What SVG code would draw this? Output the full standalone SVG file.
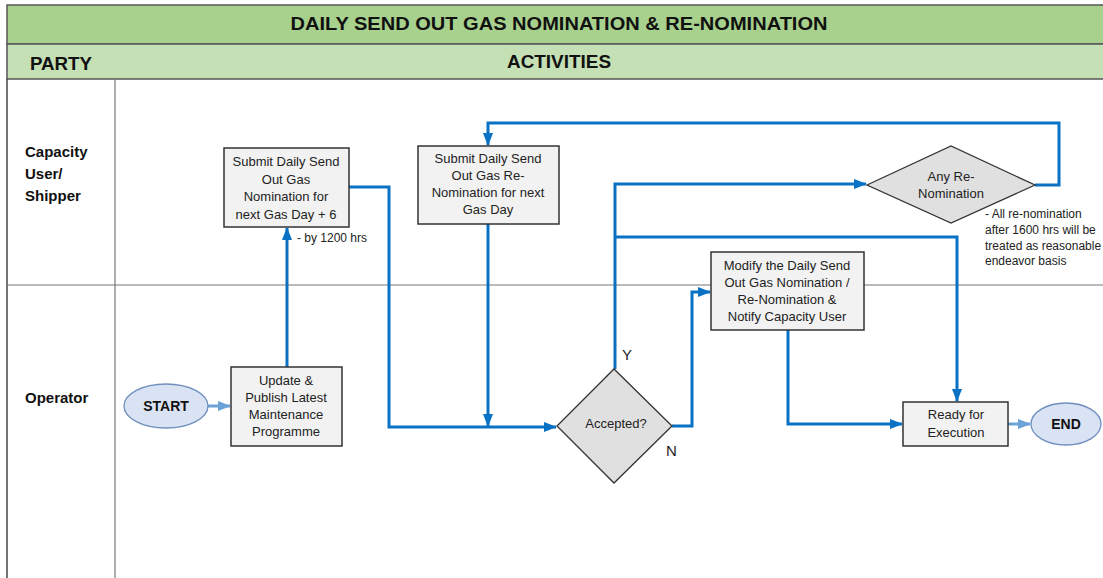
<svg xmlns="http://www.w3.org/2000/svg" width="1103" height="578" viewBox="0 0 1103 578">
<defs>
<style>
.t{font-family:"Liberation Sans",Arial,sans-serif;font-size:13px;fill:#222;text-anchor:middle}
.n{font-family:"Liberation Sans",Arial,sans-serif;font-size:12px;fill:#222}
.yn{font-family:"Liberation Sans",Arial,sans-serif;font-size:15px;fill:#222}
.h{font-family:"Liberation Sans",Arial,sans-serif;font-weight:bold;fill:#111}
.box{fill:#f2f2f2;stroke:#333;stroke-width:1.5}
.dia{fill:#e0e0e0;stroke:#333;stroke-width:1.3}
.ell{fill:#dae3f3;stroke:#6e8fbd;stroke-width:1.3}
.c{fill:none;stroke:#0a72c4;stroke-width:3}
.cl{fill:none;stroke:#6ba3d8;stroke-width:3}
</style>
<marker id="b" markerWidth="14" markerHeight="12" refX="12" refY="6" orient="auto" markerUnits="userSpaceOnUse"><path d="M0,1 L13,6 L0,11 Z" fill="#0a72c4"/></marker>
<marker id="bl" markerWidth="14" markerHeight="12" refX="12" refY="6" orient="auto" markerUnits="userSpaceOnUse"><path d="M0,1 L13,6 L0,11 Z" fill="#6ba3d8"/></marker>
</defs>
<rect x="0" y="0" width="1103" height="578" fill="#fff"/>
<g id="frame">
<rect x="7" y="5" width="1100" height="39" fill="#a9d18e" stroke="#555" stroke-width="1.5"/>
<rect x="7" y="44" width="1100" height="35" fill="#c5e0b4" stroke="#555" stroke-width="1.5"/>
<line x1="7" y1="79" x2="7" y2="578" stroke="#444" stroke-width="1.5"/>
<line x1="115" y1="79" x2="115" y2="578" stroke="#777" stroke-width="1.2"/>
<line x1="7" y1="285" x2="1103" y2="285" stroke="#777" stroke-width="1.2"/>
<text class="h" x="559" y="30" font-size="18" text-anchor="middle" textLength="537" lengthAdjust="spacingAndGlyphs">DAILY SEND OUT GAS NOMINATION &amp; RE-NOMINATION</text>
<text class="h" x="30" y="70" font-size="18" textLength="62" lengthAdjust="spacingAndGlyphs">PARTY</text>
<text class="h" x="559" y="68" font-size="18" text-anchor="middle" textLength="104" lengthAdjust="spacingAndGlyphs">ACTIVITIES</text>
<text class="h" font-size="15" x="25" y="157">Capacity</text>
<text class="h" font-size="15" x="25" y="179">User/</text>
<text class="h" font-size="15" x="25" y="201">Shipper</text>
<text class="h" font-size="15" x="25" y="403">Operator</text>
</g>
<g id="connectors">
<path class="cl" d="M208,406 H230" marker-end="url(#bl)"/>
<path class="c" d="M287,367 V228" marker-end="url(#b)"/>
<path class="c" d="M349,187 H389 V427 H556" marker-end="url(#b)"/>
<path class="c" d="M488,224 V426" marker-end="url(#b)"/>
<path class="c" d="M1035,185 H1059 V123 H488 V145" marker-end="url(#b)"/>
<path class="c" d="M615,369 V184 H866" marker-end="url(#b)"/>
<path class="c" d="M615,237 H957 V401" marker-end="url(#b)"/>
<path class="c" d="M672,426 H692 V292 H710" marker-end="url(#b)"/>
<path class="c" d="M788,330 V424 H902" marker-end="url(#b)"/>
<path class="cl" d="M1008,424 H1030" marker-end="url(#bl)"/>
<text class="n" x="297" y="242">- by 1200 hrs</text>
<text class="yn" x="622" y="360">Y</text>
<text class="yn" x="666" y="456">N</text>
<text class="n" x="985" y="218">- All re-nomination</text>
<text class="n" x="985" y="234">after 1600 hrs will be</text>
<text class="n" x="985" y="250">treated as reasonable</text>
<text class="n" x="985" y="265">endeavor basis</text>
</g>
<g id="start">
<ellipse class="ell" cx="166" cy="406" rx="42" ry="22"/>
<text class="h" x="166" y="411" font-size="14" text-anchor="middle">START</text>
</g>
<g id="update">
<rect class="box" x="231" y="367" width="111" height="79"/>
<text class="t" x="286" y="385">Update &amp;</text>
<text class="t" x="286" y="402">Publish Latest</text>
<text class="t" x="286" y="419">Maintenance</text>
<text class="t" x="286" y="436">Programme</text>
</g>
<g id="submit-nom">
<rect class="box" x="224" y="148" width="125" height="79"/>
<text class="t" x="286" y="166">Submit Daily Send</text>
<text class="t" x="286" y="184">Out Gas</text>
<text class="t" x="286" y="201">Nomination for</text>
<text class="t" x="286" y="219">next Gas Day + 6</text>
</g>
<g id="submit-renom">
<rect class="box" x="418" y="146" width="141" height="78"/>
<text class="t" x="488" y="163">Submit Daily Send</text>
<text class="t" x="488" y="180">Out Gas Re-</text>
<text class="t" x="488" y="197">Nomination for next</text>
<text class="t" x="488" y="214">Gas Day</text>
</g>
<g id="any-renom">
<polygon class="dia" points="867,185 951,146 1035,185 951,223"/>
<text class="t" x="951" y="181">Any Re-</text>
<text class="t" x="951" y="198">Nomination</text>
</g>
<g id="accepted">
<polygon class="dia" points="557,426 614,369 672,426 614,483"/>
<text class="t" x="616" y="428">Accepted?</text>
</g>
<g id="modify">
<rect class="box" x="711" y="252" width="153" height="78"/>
<text class="t" x="787" y="270">Modify the Daily Send</text>
<text class="t" x="787" y="287">Out Gas Nomination /</text>
<text class="t" x="787" y="304">Re-Nomination &amp;</text>
<text class="t" x="787" y="321">Notify Capacity User</text>
</g>
<g id="ready">
<rect class="box" x="903" y="402" width="105" height="44"/>
<text class="t" x="956" y="419">Ready for</text>
<text class="t" x="956" y="437">Execution</text>
</g>
<g id="end">
<ellipse class="ell" cx="1066" cy="424" rx="35" ry="21"/>
<text class="h" x="1066" y="429" font-size="14" text-anchor="middle">END</text>
</g>
</svg>
